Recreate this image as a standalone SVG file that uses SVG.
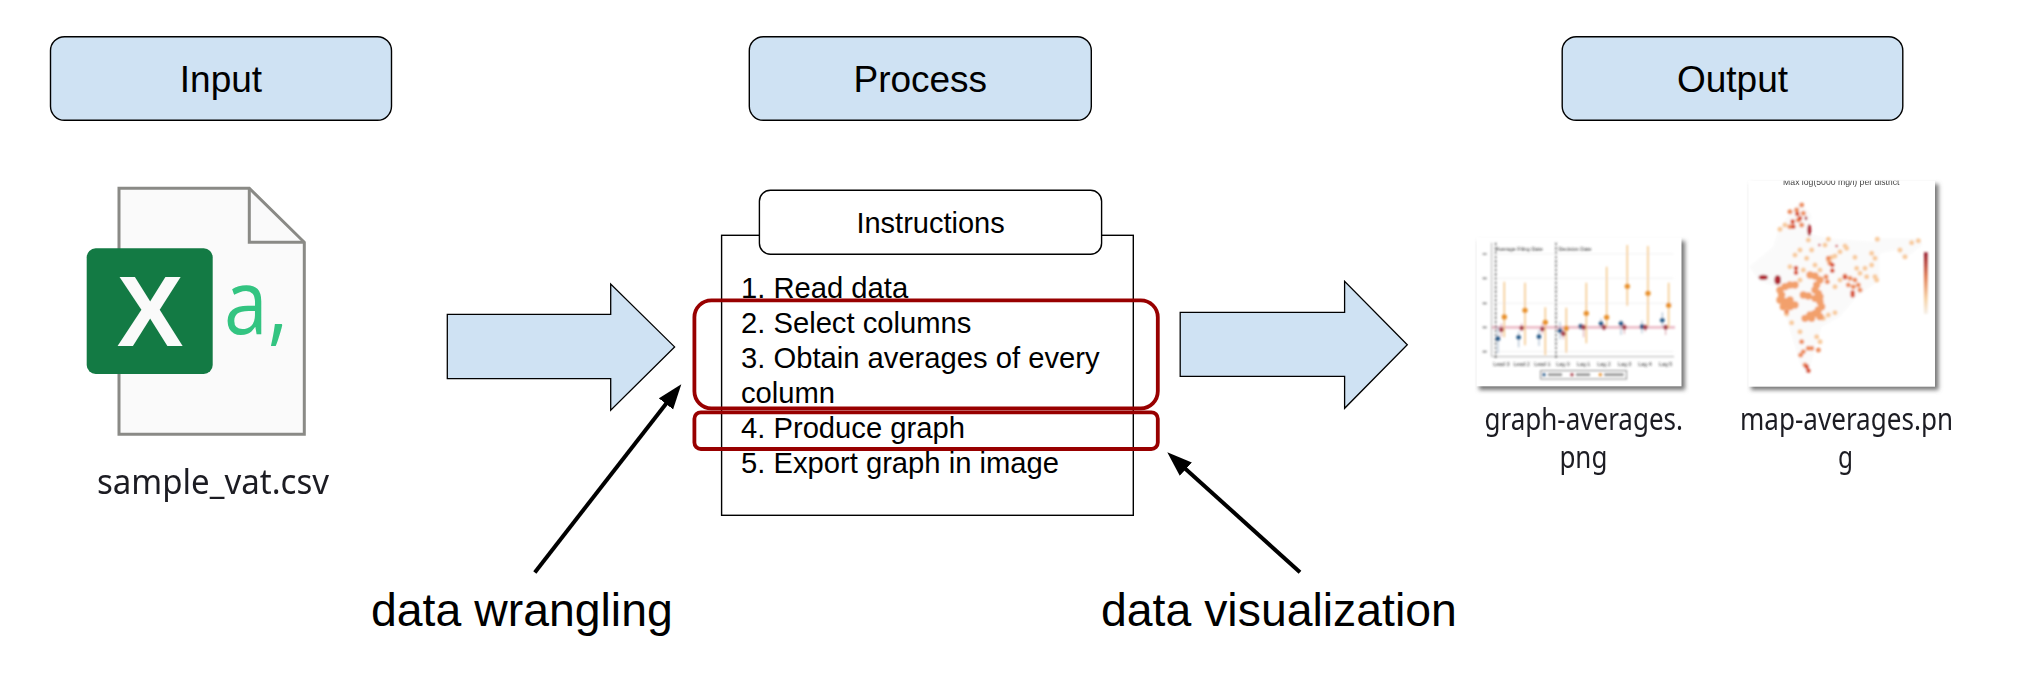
<svg xmlns="http://www.w3.org/2000/svg" width="2027" height="680" viewBox="0 0 2027 680">
<style>
text{font-family:"Liberation Sans",Arial,sans-serif;fill:#000}
.hd{fill:#cfe2f3;stroke:#000;stroke-width:1.4}
.hdt{font-size:37px;text-anchor:middle}
.step{font-size:29.2px}
.big{font-size:46.4px}
.red{fill:none;stroke:#980000;stroke-width:3.8}
.blk{fill:#cfe2f3;stroke:#000;stroke-width:1.3}
.file{font-family:"Noto Sans","Open Sans",sans-serif;font-size:31px;fill:#1c1c24;text-anchor:start}
.conn{fill:none;stroke:#000;stroke-width:4}
.tiny{font-size:16px;fill:#333;text-anchor:middle}
.grid{stroke:#e8e8e8;stroke-width:2}
.o{stroke:#f3bf78;stroke-width:4}.b{stroke:#9fb4ca;stroke-width:3}.r{stroke:#d9a0a8;stroke-width:3}
.od{fill:#e8902a}.bd{fill:#245a88}.rd{fill:#a53c48}
.m{fill:none;stroke-linecap:round;stroke-linejoin:round}
.dk{fill:#b02c34}
</style>
<defs>
<marker id="head" markerUnits="userSpaceOnUse" markerWidth="26" markerHeight="20" refX="10" refY="9.5" orient="auto"><path d="M0,0.5 L25,9.5 L0,18.5 z" fill="#000"/></marker>
<filter id="soft" x="-5%" y="-5%" width="110%" height="110%"><feGaussianBlur stdDeviation="2.6"/></filter>
<filter id="lbl" x="-5%" y="-20%" width="110%" height="140%"><feGaussianBlur stdDeviation="0.45"/></filter>
<filter id="shad" x="-10%" y="-10%" width="120%" height="120%"><feGaussianBlur stdDeviation="2"/></filter>
<linearGradient id="cbar" x1="0" y1="0" x2="0" y2="1"><stop offset="0" stop-color="#96182a"/><stop offset=".4" stop-color="#e07a50"/><stop offset=".75" stop-color="#f6cfa0"/><stop offset="1" stop-color="#f5efe6"/></linearGradient>
<clipPath id="mapclip"><rect x="25" y="32" width="560" height="618"/></clipPath>
</defs>

<g id="node-input"><rect class="hd" x="50.5" y="36.7" width="341" height="83.6" rx="14"/><text class="hdt" x="221" y="91.5">Input</text></g>
<g id="node-process"><rect class="hd" x="749.3" y="36.7" width="342" height="83.6" rx="14"/><text class="hdt" x="920.3" y="91.5">Process</text></g>
<g id="node-output"><rect class="hd" x="1562.2" y="36.7" width="340.6" height="83.6" rx="14"/><text class="hdt" x="1732.5" y="91.5">Output</text></g>

<g id="node-csv-file">
<path d="M119,188.3 H249.3 L304.3,242.3 V434.3 H119 Z" fill="#fafafa" stroke="#8a8a86" stroke-width="3"/>
<path d="M249.3,188.3 V242.3 H304.3" fill="none" stroke="#8a8a86" stroke-width="3"/>
<rect x="86.7" y="248.3" width="126" height="125.7" rx="9" fill="#137a44"/>
<text x="150" y="346" font-size="100" font-weight="700" text-anchor="middle" style="fill:#fafafa">X</text>
<text x="224" y="333.5" font-size="90" textLength="64" lengthAdjust="spacingAndGlyphs" style="font-family:'Open Sans','Noto Sans',sans-serif;font-weight:400;fill:#33c481">a,</text>
<text class="file" x="97" y="494.4" textLength="232" lengthAdjust="spacingAndGlyphs" filter="url(#lbl)" style="font-size:34px">sample_vat.csv</text>
</g>

<g id="node-instructions">
<rect x="721.6" y="235.3" width="411.7" height="280" fill="#fff" stroke="#000" stroke-width="1.4"/>
<rect x="759.4" y="190.3" width="342.2" height="64" rx="11" fill="#fff" stroke="#000" stroke-width="1.4"/>
<text x="930.6" y="232.7" text-anchor="middle" font-size="29">Instructions</text>
<text class="step" x="741" y="297.7">1. Read data</text>
<text class="step" x="741" y="333">2. Select columns</text>
<text class="step" x="741" y="368.3">3. Obtain averages of every</text>
<text class="step" x="741" y="403.3">column</text>
<text class="step" x="741" y="438">4. Produce graph</text>
<text class="step" x="741" y="473">5. Export graph in image</text>
</g>

<g id="node-highlight-wrangling"><rect class="red" x="694.4" y="300.3" width="463.4" height="108" rx="17"/></g>
<g id="node-highlight-visualization"><rect class="red" x="694.4" y="412.3" width="463.4" height="36.7" rx="6.5"/></g>

<g id="node-graph-thumbnail">
<rect x="1479" y="241" width="206" height="149" fill="#777" filter="url(#shad)"/>
<rect x="1476.5" y="237.3" width="205" height="149" fill="#fff"/>
<g transform="translate(1470,230) scale(0.3333)" filter="url(#soft)">
<path class="grid" d="M65,72H610M65,145H610M65,220H610M65,365H610"/>
<path d="M65,292H615" stroke="#ecbcc8" stroke-width="8"/>
<path d="M65,38V380H612" fill="none" stroke="#888" stroke-width="2"/>
<path d="M77,38V385M258,38V385" stroke="#444" stroke-width="3.5" stroke-dasharray="8 5"/>
<path d="M38,72h12M38,145h12M38,220h12M38,292h12M38,365h12" stroke="#888" stroke-width="5"/>
<text class="tiny" x="148" y="64">Average Filing Date</text>
<text class="tiny" x="315" y="64">Decision Date</text>
<g>
<text class="tiny" x="94" y="408">Lead 3</text><text class="tiny" x="155" y="408">Lead 2</text><text class="tiny" x="217" y="408">Lead 1</text><text class="tiny" x="279" y="408">Lag 0</text><text class="tiny" x="341" y="408">Lag 1</text><text class="tiny" x="402" y="408">Lag 2</text><text class="tiny" x="464" y="408">Lag 3</text><text class="tiny" x="525" y="408">Lag 4</text><text class="tiny" x="587" y="408">Lag 5</text>
</g>
<path class="b" d="M84,290V370M146,305V352M207,300V348M270,275V328M332,280V300M393,265V295M453,270V315M516,272V310M577,247V290"/>
<path class="r" d="M94,280V320M155,280V305M217,280V312M280,298V328M341,283V322M402,283V302M463,280V312M526,283V305M587,283V315"/>
<path class="o" d="M103,155V322M165,158V346M226,232V375M289,233V368M349,158V340M410,110V290M472,45V227M534,48V288M596,158V295"/>
<g class="bd"><circle cx="84" cy="326" r="7"/><circle cx="146" cy="322" r="7"/><circle cx="207" cy="320" r="7"/><circle cx="270" cy="302" r="7"/><circle cx="332" cy="289" r="7"/><circle cx="393" cy="281" r="7"/><circle cx="453" cy="281" r="7"/><circle cx="516" cy="290" r="7"/><circle cx="577" cy="271" r="7"/></g>
<g class="rd"><circle cx="94" cy="299" r="7"/><circle cx="155" cy="294" r="7"/><circle cx="217" cy="297" r="7"/><circle cx="280" cy="311" r="7"/><circle cx="341" cy="292" r="7"/><circle cx="402" cy="292" r="7"/><circle cx="463" cy="292" r="7"/><circle cx="526" cy="292" r="7"/><circle cx="587" cy="292" r="7"/></g>
<g class="od"><circle cx="103" cy="261" r="8"/><circle cx="165" cy="241" r="8"/><circle cx="226" cy="277" r="8"/><circle cx="289" cy="295" r="8"/><circle cx="349" cy="250" r="8"/><circle cx="410" cy="262" r="8"/><circle cx="472" cy="169" r="8"/><circle cx="534" cy="190" r="8"/><circle cx="596" cy="226" r="8"/></g>
<rect x="212" y="422" width="258" height="25" fill="none" stroke="#777" stroke-width="2.5"/>
<circle cx="222" cy="434" r="5" fill="#245a88"/><path d="M234,434h42" stroke="#888" stroke-width="7"/>
<circle cx="306" cy="434" r="5" fill="#a53c48"/><path d="M318,434h42" stroke="#888" stroke-width="7"/>
<circle cx="391" cy="434" r="5" fill="#e8902a"/><path d="M403,434h58" stroke="#888" stroke-width="7"/>
</g>
<text class="file" x="1484.5" y="430" textLength="198.5" lengthAdjust="spacingAndGlyphs" filter="url(#lbl)">graph-averages.</text>
<text class="file" x="1559.4" y="468" textLength="48" lengthAdjust="spacingAndGlyphs" filter="url(#lbl)">png</text>
</g>

<g id="node-map-thumbnail">
<rect x="1751" y="184" width="187.5" height="206" fill="#777" filter="url(#shad)"/>
<rect x="1748.3" y="180.7" width="186.7" height="206" fill="#fff"/>
<g transform="translate(1740,170) scale(0.3333)">
<g clip-path="url(#mapclip)">
<text x="304" y="44" text-anchor="middle" font-size="26" filter="url(#lbl)" style="fill:#444">Max log(5000 mg/l) per district</text>
</g>
<g filter="url(#soft)">
<path d="M180,95 L215,135 L205,190 L260,205 L330,210 L400,215 L415,205 L540,205 L548,225 L490,270 L470,240 L420,250 L420,330 L350,380 L300,440 L245,470 L210,590 L200,612 L180,580 L135,430 L110,350 L60,335 L28,290 L100,230 L115,180 L150,130 Z" fill="#fafafa"/>
<path class="m" stroke="#f8cb9d" stroke-width="15" d="M265,435h0M285,428h0M250,445h0M120,178h0M135,165h0M265,270h0M285,258h0M300,245h0M320,235h0M275,262h0M350,295h0M375,295h0M395,285h0M405,265h0M405,320h0M412,208h0M480,240h0M495,260h0M515,218h0M535,212h0M180,485h0M140,432h0M155,458h0M165,255h0M150,290h0M180,240h0M255,225h0M265,208h0M205,210h0M215,240h0M315,228h0M395,250h0M225,285h0M200,265h0M240,300h0M345,262h0M380,320h0M360,310h0M230,500h0M240,515h0M300,330h0M285,350h0M180,330h0M190,300h0M410,330h0"/>
<path class="m" stroke="#f2a06c" stroke-width="22" d="M120,360h0M135,350h0M150,345h0M165,345h0M125,375h0M120,390h0M135,395h0M150,390h0M130,410h0M150,410h0M165,405h0M190,375h0M205,378h0M225,385h0M240,380h0M240,395h0M245,410h0M235,420h0M225,430h0M210,435h0M195,445h0M215,445h0M240,440h0M210,315h0M225,318h0M240,330h0M230,345h0M225,360h0M235,370h0"/>
<path class="m" stroke="#ee9264" stroke-width="15" d="M140,425h0M258,320h0M262,335h0M315,318h0M330,325h0M345,330h0M355,345h0M360,360h0M325,345h0M150,125h0M170,120h0M185,105h0M190,130h0M175,150h0M185,165h0M150,170h0M185,515h0M205,535h0M190,545h0M215,535h0M235,540h0M182,555h0M265,265h0M270,280h0M195,585h0M340,350h0"/>
<path class="m" stroke="#d9563a" stroke-width="14" d="M168,294h0M168,308h0M277,285h0M277,302h0M338,368h0M338,376h0M200,590h0M205,602h0M158,155h0M160,170h0M180,145h0M172,132h0M315,322h0"/>
<ellipse class="dk" cx="70" cy="322" rx="14" ry="8"/>
<ellipse class="dk" cx="113" cy="330" rx="10" ry="14"/>
<ellipse class="dk" cx="208" cy="180" rx="6" ry="18"/>
<ellipse class="dk" cx="198" cy="145" rx="4" ry="6"/>
<circle cx="238" cy="225" r="4" fill="#d05050"/><circle cx="290" cy="228" r="4" fill="#d05050"/>
<rect x="552" y="247" width="11" height="185" fill="url(#cbar)"/>
</g>
</g>
<text class="file" x="1740" y="430" textLength="213" lengthAdjust="spacingAndGlyphs" filter="url(#lbl)">map-averages.pn</text>
<text class="file" x="1838" y="468" textLength="15" lengthAdjust="spacingAndGlyphs" filter="url(#lbl)">g</text>
</g>

<g id="node-label-wrangling"><text class="big" x="371" y="626">data wrangling</text></g>
<g id="node-label-visualization"><text class="big" x="1101" y="626">data visualization</text></g>

<g id="connectors">
<path class="blk" d="M447.3,314.4 H610.7 V284 L674.6,346.9 L610.7,410.2 V378.6 H447.3 Z"/>
<path class="blk" d="M1180.2,312.3 H1344.6 V281.3 L1407.3,344.7 L1344.6,408.3 V376.3 H1180.2 Z"/>
<path class="conn" d="M534.8,572.4 L672.1,396" marker-end="url(#head)"/>
<path class="conn" d="M1300,572.3 L1178.4,462.4" marker-end="url(#head)"/>
</g>
</svg>
